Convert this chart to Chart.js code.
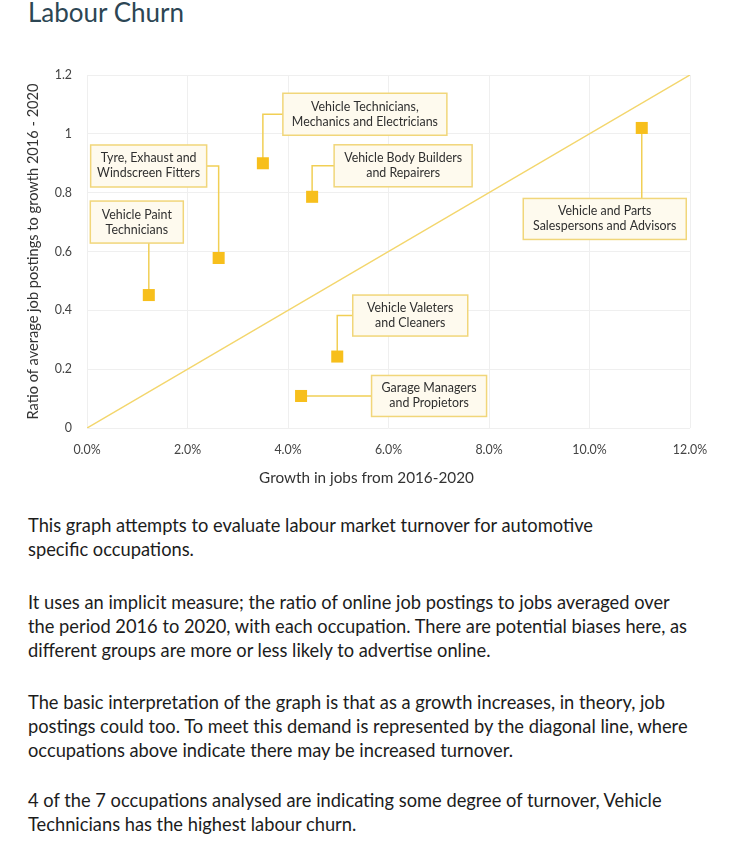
<!DOCTYPE html>
<html>
<head>
<meta charset="utf-8">
<script src="https://cdn.jsdelivr.net/npm/chart.js@4/dist/chart.umd.min.js"></script>
<style>
html,body{margin:0;padding:0;background:#fff;width:733px;height:859px;overflow:hidden;font-family:Lato,"Noto Sans",sans-serif;}
#title{position:absolute;left:28px;top:-3px;font-size:26px;line-height:30px;color:#2c4654;white-space:nowrap;}
#wrap{position:absolute;left:0;top:0;width:733px;height:500px;}
.p{position:absolute;left:28px;font-size:18.3px;line-height:24px;color:#1c1c1c;white-space:nowrap;}
</style>
</head>
<body>
<div id="title">Labour Churn</div>
<div id="wrap"><canvas id="c" width="733" height="500"></canvas></div>
<div class="p" style="top:513px">This graph attempts to evaluate labour market turnover for automotive<br>specific occupations.</div>
<div class="p" style="top:590px">It uses an implicit measure; the ratio of online job postings to jobs averaged over<br>the period 2016 to 2020, with each occupation. There are potential biases here, as<br>different groups are more or less likely to advertise online.</div>
<div class="p" style="top:690px">The basic interpretation of the graph is that as a growth increases, in theory, job<br>postings could too. To meet this demand is represented by the diagonal line, where<br>occupations above indicate there may be increased turnover.</div>
<div class="p" style="top:788px">4 of the 7 occupations analysed are indicating some degree of turnover, Vehicle<br>Technicians has the highest labour churn.</div>
<script>
// ---- data ----
const occupations = [
  "Vehicle Paint Technicians",
  "Tyre, Exhaust and Windscreen Fitters",
  "Vehicle Technicians, Mechanics and Electricians",
  "Vehicle Body Builders and Repairers",
  "Vehicle Valeters and Cleaners",
  "Garage Managers and Propietors",
  "Vehicle and Parts Salespersons and Advisors"
];
const labelLines = [
  ["Vehicle Paint", "Technicians"],
  ["Tyre, Exhaust and", "Windscreen Fitters"],
  ["Vehicle Technicians,", "Mechanics and Electricians"],
  ["Vehicle Body Builders", "and Repairers"],
  ["Vehicle Valeters", "and Cleaners"],
  ["Garage Managers", "and Propietors"],
  ["Vehicle and Parts", "Salespersons and Advisors"]
];
const jobGrowth = [1.23, 2.62, 3.50, 4.48, 4.98, 4.26, 11.04];      // % growth 2016-2020
const postingRatio = [0.452, 0.578, 0.90, 0.786, 0.243, 0.109, 1.02];
const parityX = [0, 12];
const parityY = [0, 1.2];
const xTickValues = [0, 2, 4, 6, 8, 10, 12];
const xTickLabels = ["0.0%", "2.0%", "4.0%", "6.0%", "8.0%", "10.0%", "12.0%"];
const yTickValues = [0, 0.2, 0.4, 0.6, 0.8, 1, 1.2];
const yTickLabels = ["0", "0.2", "0.4", "0.6", "0.8", "1", "1.2"];

// ---- annotation layout (pixel offsets of label box centre from its point, box size) ----
const labelLayout = [
  {dx: -12, dy: -73, w: 93, h: 42},
  {dx: -70, dy: -92, w: 116, h: 42},
  {dx: 102, dy: -49, w: 164, h: 42},
  {dx: 91, dy: -31, w: 138, h: 42},
  {dx: 73, dy: -41, w: 115, h: 41},
  {dx: 128, dy: 0, w: 115, h: 41},
  {dx: -37, dy: 91, w: 163, h: 41}
];

const GOLD = '#F7BF1C';
const LINE = '#F1CF55';
const FONT = 'Lato, "Noto Sans", sans-serif';

const annotations = {
  id: 'annotations',
  beforeDatasetsDraw(chart) {
    const ctx = chart.ctx;
    const xs = chart.scales.x, ys = chart.scales.y;
    ctx.save();
    occupations.forEach((name, i) => {
      const px = xs.getPixelForValue(jobGrowth[i]);
      const py = ys.getPixelForValue(postingRatio[i]);
      const L = labelLayout[i];
      const cx = px + L.dx, cy = py + L.dy;
      const left = cx - L.w / 2, right = cx + L.w / 2, top = cy - L.h / 2, bottom = cy + L.h / 2;
      // connector
      ctx.strokeStyle = LINE;
      ctx.lineWidth = 1.5;
      ctx.beginPath();
      if (px >= left && px <= right) {
        ctx.moveTo(px, py);
        ctx.lineTo(px, py < top ? top : bottom);
      } else {
        ctx.moveTo(px, py);
        ctx.lineTo(px, cy);
        ctx.lineTo(px < left ? left : right, cy);
      }
      ctx.stroke();
      // box
      ctx.fillStyle = '#FEFAEE';
      ctx.fillRect(left, top, L.w, L.h);
      ctx.strokeStyle = '#F1D67A';
      ctx.lineWidth = 1.5;
      ctx.strokeRect(left, top, L.w, L.h);
      // text
      ctx.fillStyle = '#2f2f2f';
      ctx.font = '12.4px ' + FONT;
      ctx.textAlign = 'center';
      ctx.textBaseline = 'middle';
      const lines = labelLines[i];
      const lh = 15;
      lines.forEach((t, k) => {
        ctx.fillText(t, cx, cy + (k - (lines.length - 1) / 2) * lh);
      });
    });
    ctx.restore();
  }
};

const tickFont = {family: FONT, size: 12.4};

new Chart(document.getElementById('c'), {
  data: {
    datasets: [
      {
        type: 'line',
        data: parityX.map((x, i) => ({x, y: parityY[i]})),
        borderColor: '#F3D66C',
        borderWidth: 1.5,
        pointRadius: 0,
        fill: false,
        order: 2
      },
      {
        type: 'scatter',
        data: jobGrowth.map((x, i) => ({x, y: postingRatio[i]})),
        pointStyle: 'rect',
        pointRadius: 8.5,
        pointHoverRadius: 8.5,
        backgroundColor: GOLD,
        borderWidth: 0,
        order: 1
      }
    ]
  },
  options: {
    responsive: false,
    animation: false,
    events: [],
    layout: {padding: {left: 0, top: 75, right: 0, bottom: 0}},
    plugins: {
      legend: {display: false},
      tooltip: {enabled: false},
      title: {
        display: true,
        position: 'bottom',
        text: 'Growth in jobs from 2016-2020',
        color: '#333',
        font: {family: FONT, size: 15.3, weight: 'normal', lineHeight: 1.2},
        padding: {top: 0, bottom: 13}
      }
    },
    scales: {
      x: {
        type: 'linear',
        min: 0, max: 12,
        afterBuildTicks: s => { s.ticks = xTickValues.map(v => ({value: v})); },
        afterFit: s => { s.height = 500 - 31.4 - 428; },
        ticks: {
          callback: (v) => xTickLabels[xTickValues.indexOf(v)],
          color: '#444', font: tickFont, padding: 15, maxRotation: 0
        },
        grid: {color: '#EFEFEF', lineWidth: 1, drawTicks: false},
        border: {display: false}
      },
      y: {
        type: 'linear',
        min: 0, max: 1.2,
        afterBuildTicks: s => { s.ticks = yTickValues.map(v => ({value: v})); },
        afterFit: s => { s.width = 87; },
        ticks: {
          callback: (v) => yTickLabels[yTickValues.indexOf(v)],
          color: '#444', font: tickFont, padding: 15
        },
        grid: {color: '#EFEFEF', lineWidth: 1, drawTicks: false},
        border: {display: false},
        title: {
          display: true,
          text: 'Ratio of average job postings to growth 2016 - 2020',
          color: '#333',
          font: {family: FONT, size: 14.6, lineHeight: 1.2},
          padding: {top: 25, bottom: 0}
        }
      },
      spacer: {
        type: 'linear',
        position: 'right',
        display: true,
        afterFit: s => { s.width = 43; },
        ticks: {display: false},
        grid: {display: false, drawTicks: false},
        border: {display: false}
      }
    }
  },
  plugins: [annotations]
});
</script>
</body>
</html>
